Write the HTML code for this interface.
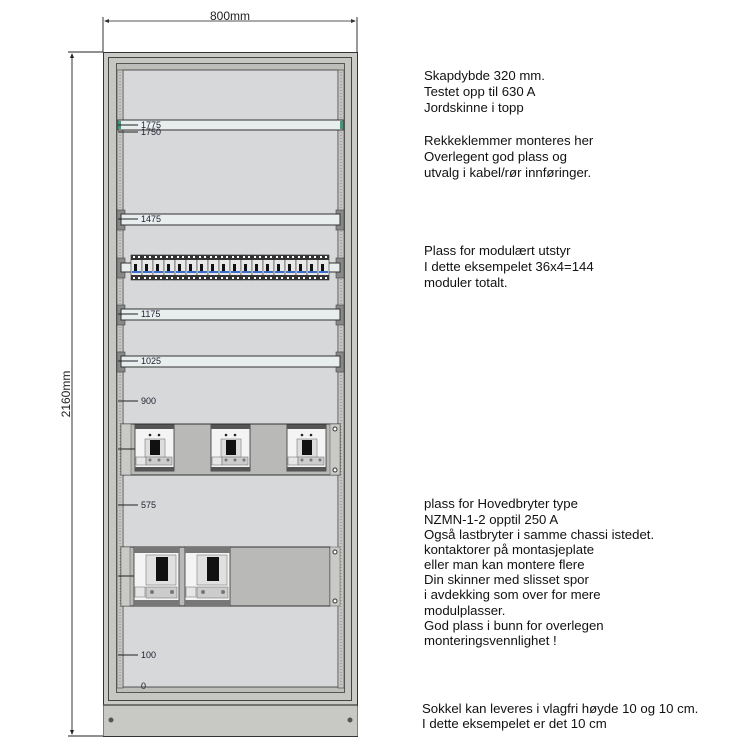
<!DOCTYPE html>
<html><head><meta charset="utf-8"><style>
html,body{margin:0;padding:0;background:#fff;}
svg{display:block;font-family:"Liberation Sans",Arial,sans-serif;}
</style></head><body>
<svg width="750" height="750" viewBox="0 0 750 750" xmlns="http://www.w3.org/2000/svg">
<defs>
<g id="mod">
 <rect x="0" y="0" width="11" height="25" fill="#e8e8e8" stroke="#333" stroke-width="0.6"/>
 <rect x="0" y="0" width="11" height="5" fill="#333"/>
 <rect x="2" y="1" width="2" height="2" fill="#fff"/><rect x="7" y="1" width="2" height="2" fill="#fff"/>
 <rect x="3" y="9" width="3" height="8" fill="#111"/>
 <rect x="1" y="16" width="9" height="2" fill="#3a6fd0"/>
 <rect x="0" y="20" width="11" height="5" fill="#333"/>
 <rect x="2" y="22" width="2" height="2" fill="#fff"/><rect x="7" y="22" width="2" height="2" fill="#fff"/>
</g>
<g id="brk">
 <rect x="0" y="0" width="39" height="46" fill="#f4f4f4" stroke="#333" stroke-width="0.8"/>
 <rect x="0" y="0" width="39" height="4" fill="#555"/>
 <rect x="0" y="42" width="39" height="4" fill="#555"/>
 <circle cx="15" cy="10" r="1.3" fill="#222"/><circle cx="24" cy="10" r="1.3" fill="#222"/>
 <rect x="10" y="14" width="20" height="20" fill="#ddd" stroke="#666" stroke-width="0.5"/>
 <rect x="15" y="15" width="10" height="15" fill="#111"/>
 <rect x="1" y="32" width="10" height="8" fill="#e6e6e6" stroke="#666" stroke-width="0.5"/>
 <rect x="11" y="32" width="26" height="8" fill="#ccc" stroke="#666" stroke-width="0.5"/>
 <circle cx="15" cy="35" r="1.5" fill="#777"/><circle cx="24" cy="35" r="1.5" fill="#777"/><circle cx="33" cy="35" r="1.5" fill="#777"/>
</g>
<g id="brk2">
 <rect x="0" y="0" width="45" height="59" fill="#f4f4f4" stroke="#333" stroke-width="0.8"/>
 <rect x="0" y="0" width="45" height="6" fill="#777"/>
 <rect x="0" y="53" width="45" height="6" fill="#777"/>
 <rect x="12" y="8" width="30" height="30" fill="#e0e0e0" stroke="#666" stroke-width="0.5"/>
 <rect x="22" y="10" width="12" height="24" fill="#111"/>
 <rect x="1" y="40" width="10" height="10" fill="#e6e6e6" stroke="#666" stroke-width="0.5"/>
 <rect x="12" y="40" width="31" height="11" fill="#ccc" stroke="#666" stroke-width="0.5"/>
 <circle cx="18" cy="45" r="2" fill="#777"/><circle cx="38" cy="45" r="2" fill="#777"/>
</g>
</defs>

<line x1="103" y1="17" x2="103" y2="52" stroke="#333"/>
<line x1="357" y1="17" x2="357" y2="52" stroke="#333"/>
<line x1="105" y1="21" x2="355" y2="21" stroke="#555"/>
<polygon points="104,21 109,19 109,23" fill="#333"/><polygon points="356,21 351,19 351,23" fill="#333"/>
<text x="230" y="20" font-size="12" text-anchor="middle" fill="#222">800mm</text>
<line x1="68" y1="52" x2="103" y2="52" stroke="#222"/>
<line x1="68" y1="736" x2="103" y2="736" stroke="#222"/>
<line x1="72" y1="54" x2="72" y2="734" stroke="#333"/>
<polygon points="72,53 70,58 74,58" fill="#222"/><polygon points="72,735 70,730 74,730" fill="#222"/>
<text x="70" y="394" font-size="12" text-anchor="middle" fill="#222" transform="rotate(-90 70 394)">2160mm</text>

<rect x="103.5" y="52.5" width="254" height="684" fill="#cacac6" stroke="#333"/>
<line x1="103" y1="705" x2="357" y2="705" stroke="#555" stroke-width="1.5"/>
<rect x="103.5" y="706" width="254" height="30" fill="#c8c8c4"/>
<circle cx="111" cy="720" r="2.5" fill="#555"/><circle cx="350" cy="720" r="2.5" fill="#555"/>
<rect x="108.5" y="57.5" width="243" height="643" fill="#c6c6c2" stroke="#444"/>
<rect x="116.5" y="63.5" width="228" height="629" fill="#bdbdb9" stroke="#555"/>
<rect x="123" y="70" width="215" height="617" fill="#d6d8da" stroke="#333" stroke-width="0.8"/>
<rect x="117" y="70" width="6" height="618" fill="#c4c4c0" stroke="#555" stroke-width="0.7"/>
<rect x="338" y="70" width="6" height="618" fill="#c4c4c0" stroke="#555" stroke-width="0.7"/>
<line x1="120" y1="72" x2="120" y2="686" stroke="#888" stroke-dasharray="1,2"/>
<line x1="341" y1="72" x2="341" y2="686" stroke="#888" stroke-dasharray="1,2"/>

<rect x="118" y="120" width="225" height="10" fill="#e8eeee" stroke="#333"/>
<rect x="118" y="121" width="3" height="8" fill="#3a9a7a"/><rect x="340" y="121" width="3" height="8" fill="#3a9a7a"/>
<line x1="118" y1="125" x2="138" y2="125" stroke="#222"/>
<text x="141" y="128" font-size="9" fill="#223">1775</text>
<line x1="118" y1="132" x2="138" y2="132" stroke="#222"/>
<text x="141" y="135" font-size="9" fill="#223">1750</text>

<rect x="117" y="210" width="8" height="20" fill="#888" stroke="#444" stroke-width="0.6"/>
<rect x="336" y="210" width="8" height="20" fill="#888" stroke="#444" stroke-width="0.6"/>
<rect x="121" y="214" width="219" height="11" fill="#e8eeee" stroke="#333"/>
<line x1="118" y1="219" x2="138" y2="219" stroke="#222"/>
<text x="141" y="222" font-size="9" fill="#223">1475</text>

<rect x="117" y="258" width="8" height="20" fill="#888" stroke="#444" stroke-width="0.6"/>
<rect x="336" y="258" width="8" height="20" fill="#888" stroke="#444" stroke-width="0.6"/>
<rect x="121" y="263" width="219" height="9" fill="#e8eeee" stroke="#333"/>
<g transform="translate(131,255)">
<use href="#mod" x="0"/><use href="#mod" x="11"/><use href="#mod" x="22"/><use href="#mod" x="33"/><use href="#mod" x="44"/><use href="#mod" x="55"/><use href="#mod" x="66"/><use href="#mod" x="77"/><use href="#mod" x="88"/><use href="#mod" x="99"/><use href="#mod" x="110"/><use href="#mod" x="121"/><use href="#mod" x="132"/><use href="#mod" x="143"/><use href="#mod" x="154"/><use href="#mod" x="165"/><use href="#mod" x="176"/><use href="#mod" x="187"/>
</g>

<rect x="117" y="305" width="8" height="20" fill="#888" stroke="#444" stroke-width="0.6"/>
<rect x="336" y="305" width="8" height="20" fill="#888" stroke="#444" stroke-width="0.6"/>
<rect x="121" y="309" width="219" height="11" fill="#e8eeee" stroke="#333"/>
<line x1="118" y1="314" x2="138" y2="314" stroke="#222"/>
<text x="141" y="317" font-size="9" fill="#223">1175</text>

<rect x="117" y="352" width="8" height="20" fill="#888" stroke="#444" stroke-width="0.6"/>
<rect x="336" y="352" width="8" height="20" fill="#888" stroke="#444" stroke-width="0.6"/>
<rect x="121" y="356" width="219" height="11" fill="#e8eeee" stroke="#333"/>
<line x1="118" y1="361" x2="138" y2="361" stroke="#222"/>
<text x="141" y="364" font-size="9" fill="#223">1025</text>

<line x1="118" y1="401" x2="138" y2="401" stroke="#222"/>
<text x="141" y="404" font-size="9" fill="#223">900</text>

<rect x="121" y="424" width="219" height="51" fill="#b9b9b7" stroke="#333"/>
<rect x="121" y="424" width="10" height="51" fill="#c9c9c6" stroke="#555" stroke-width="0.5"/>
<rect x="330" y="424" width="10" height="51" fill="#c9c9c6" stroke="#555" stroke-width="0.5"/>
<circle cx="335" cy="429" r="2" fill="#fff" stroke="#333"/><circle cx="335" cy="470" r="2" fill="#fff" stroke="#333"/>
<line x1="118" y1="449" x2="135" y2="449" stroke="#222"/>
<use href="#brk" x="135" y="425"/><use href="#brk" x="211" y="425"/><use href="#brk" x="287" y="425"/>

<line x1="118" y1="505" x2="138" y2="505" stroke="#222"/>
<text x="141" y="508" font-size="9" fill="#223">575</text>

<rect x="121" y="547" width="209" height="59" fill="#b9b9b7" stroke="#333"/>
<rect x="121" y="547" width="9" height="59" fill="#c9c9c6" stroke="#555" stroke-width="0.5"/>
<rect x="330" y="547" width="10" height="59" fill="#c9c9c6" stroke="#555" stroke-width="0.5"/>
<circle cx="335" cy="552" r="2" fill="#fff" stroke="#333"/><circle cx="335" cy="601" r="2" fill="#fff" stroke="#333"/>
<line x1="118" y1="576" x2="134" y2="576" stroke="#222"/>
<use href="#brk2" x="134" y="547"/><use href="#brk2" x="185" y="547"/>

<line x1="118" y1="655" x2="138" y2="655" stroke="#222"/>
<text x="141" y="658" font-size="9" fill="#223">100</text>
<text x="141" y="689" font-size="9" fill="#223">0</text>

<g font-size="13.2" fill="#111">
<text x="424" y="80">Skapdybde 320 mm.</text>
<text x="424" y="96">Testet opp til 630 A</text>
<text x="424" y="112">Jordskinne i topp</text>
<text x="424" y="145">Rekkeklemmer monteres her</text>
<text x="424" y="161">Overlegent god plass og</text>
<text x="424" y="177">utvalg i kabel/rør innføringer.</text>
<text x="424" y="255">Plass for modulært utstyr</text>
<text x="424" y="271">I dette eksempelet 36x4=144</text>
<text x="424" y="287">moduler totalt.</text>
<text x="424" y="508">plass for Hovedbryter type</text>
<text x="424" y="524">NZMN-1-2 opptil 250 A</text>
<text x="424" y="539">Også lastbryter i samme chassi istedet.</text>
<text x="424" y="554">kontaktorer på montasjeplate</text>
<text x="424" y="569">eller man kan montere flere</text>
<text x="424" y="584">Din skinner med slisset spor</text>
<text x="424" y="599">i avdekking som over for mere</text>
<text x="424" y="615">modulplasser.</text>
<text x="424" y="630">God plass i bunn for overlegen</text>
<text x="424" y="645">monteringsvennlighet !</text>
<text x="422" y="713">Sokkel kan leveres i vlagfri høyde 10 og 10 cm.</text>
<text x="422" y="728">I dette eksempelet er det 10 cm</text>
</g>
</svg>
</body></html>
